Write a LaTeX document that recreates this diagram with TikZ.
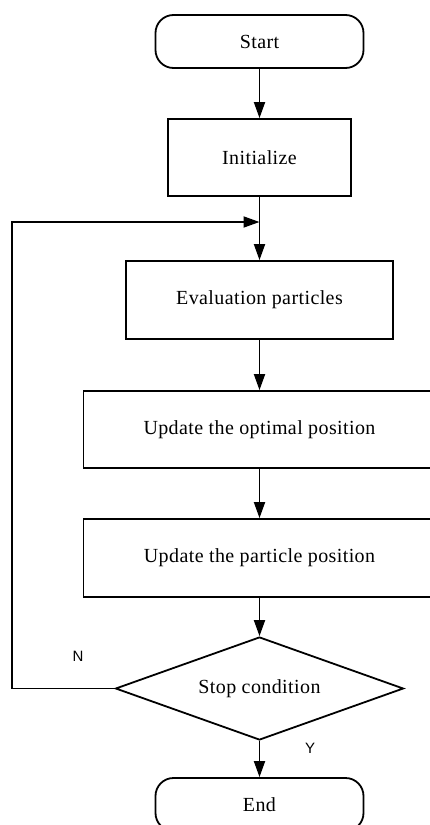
\documentclass[tikz,border=0pt]{standalone}
\usepackage{fontspec}
\setmainfont[LetterSpace=2]{Liberation Serif}
\newfontfamily\labelfont{Liberation Sans}
\usetikzlibrary{shapes.geometric, arrows.meta}
\tikzstyle{terminal}=[rectangle, rounded corners=18pt, draw, line width=1.8pt, minimum width=208pt, minimum height=53pt, font=\fontsize{20}{23}\selectfont]
\tikzstyle{process}=[rectangle, draw, line width=1.8pt, minimum height=77pt, font=\fontsize{20}{23}\selectfont]
\tikzstyle{decision}=[diamond, draw, line width=1.8pt, aspect=2.8, inner sep=0pt, minimum width=288pt, minimum height=103pt, font=\fontsize{20}{23}\selectfont]
\tikzstyle{flow}=[line width=1.8pt, -{Triangle[length=16pt,width=11pt]}]
\tikzstyle{answer}=[font=\labelfont\fontsize{15}{18}\selectfont]
\newcommand{\proc}{\node[process]}

\begin{document}
\begin{tikzpicture}[x=1pt, y=-1pt]
\useasboundingbox (0,0) rectangle (429,825);
\node[terminal] (start) at (259.5,41.5){Start};
\proc[minimum width=183pt] (init) at (259.5,157.5){Initialize};
\proc[minimum width=267pt, minimum height=78pt] (eval) at (259.5,300){Evaluation particles};
\proc[minimum width=352pt] (best) at (259.5,429.5){Update the optimal position};
\proc[minimum width=352pt, minimum height=78pt] (move) at (259.5,558){Update the particle position};
\node[decision] (stop) at (259.5,688.5){Stop condition};
\node[terminal] (end) at (259.5,804.5){End};
\coordinate (join) at (259.5,222);
\coordinate (c1) at (12,688.5);
\coordinate (c2) at (12,222);
\draw[flow] (start) -- (init);
\draw[flow] (init) -- (eval);
\draw[flow] (eval) -- (best);
\draw[flow] (best) -- (move);
\draw[flow] (move) -- (stop);
\draw[flow] (stop) -- (end);
\draw[flow, line join=miter] (stop.west) -- (c1) -- (c2) -- (join);
\node[answer] (no) at (78,656){N};
\node[answer] (yes) at (310,748){Y};
\end{tikzpicture}
\end{document}
